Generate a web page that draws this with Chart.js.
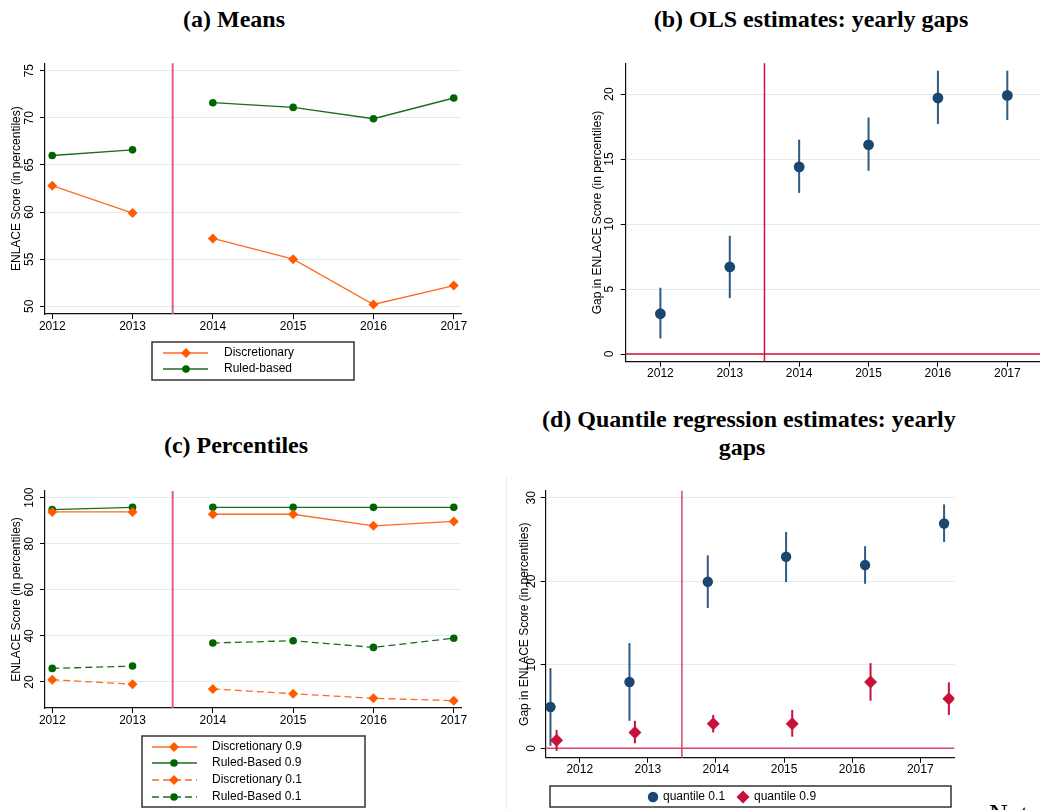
<!DOCTYPE html>
<html lang="en">
<head>
<meta charset="UTF-8">
<title>ENLACE scores: discretionary vs rule-based</title>
<style>
  body { margin: 0; width: 1040px; height: 810px; overflow: hidden; background: #fff; position: relative; }
  canvas { position: absolute; }
  .ttl { position: absolute; font: bold 24px "Liberation Serif", "Times New Roman", serif; line-height: 28px; text-align: center; color: #000; white-space: nowrap; }
  .note { position: absolute; left: 989px; top: 801px; font: 26px "Liberation Serif", serif; line-height: 26px; color: #000; }
  .frame { position: absolute; left: 506px; top: 477px; width: 1px; height: 333px; background: #ececec; }
</style>
</head>
<body>
<div class="ttl" style="left:0;width:468px;top:5px">(a) Means</div>
<div class="ttl" style="left:611px;width:400px;top:5px">(b) OLS estimates: yearly gaps</div>
<div class="ttl" style="left:0;width:472px;top:431px">(c) Percentiles</div>
<div class="ttl" style="left:542px;width:400px;top:405px">(d) Quantile regression estimates: yearly<br>gaps</div>
<div class="frame"></div>
<div class="note">Notes:</div>

<canvas id="chartA" width="480" height="350" style="left:0;top:40px"></canvas>
<canvas id="chartB" width="490" height="350" style="left:560px;top:40px"></canvas>
<canvas id="chartC" width="480" height="340" style="left:0;top:470px"></canvas>
<canvas id="chartD" width="540" height="340" style="left:500px;top:470px"></canvas>

<script src="https://cdn.jsdelivr.net/npm/chart.js"></script>
<script>
  const years = [2012, 2013, 2014, 2015, 2016, 2017];
  const reformYear = 2013.5;

  // (a) means
  const meanDiscretionary = [62.8, 59.9, 57.2, 55.0, 50.2, 52.2];
  const meanRuleBased = [66.0, 66.6, 71.6, 71.1, 69.9, 72.1];
  const meansTicks = [50, 55, 60, 65, 70, 75];

  // (b) OLS gaps with confidence intervals
  const olsGap = [3.1, 6.7, 14.4, 16.1, 19.7, 19.9];
  const olsLow = [1.2, 4.3, 12.4, 14.1, 17.7, 18.0];
  const olsHigh = [5.1, 9.1, 16.5, 18.2, 21.8, 21.8];
  const olsTicks = [0, 5, 10, 15, 20];

  // (c) percentiles
  const disc90 = [93.8, 93.8, 92.8, 92.8, 87.8, 89.7];
  const rule90 = [94.8, 95.8, 95.8, 95.8, 95.8, 95.8];
  const disc10 = [21.0, 19.0, 17.0, 14.9, 12.9, 11.9];
  const rule10 = [25.9, 26.9, 36.9, 37.9, 35.0, 39.0];
  const pctTicks = [20, 40, 60, 80, 100];

  // (d) quantile regression gaps (markers sit where stata put them)
  const q10X = [2011.57, 2012.73, 2013.88, 2015.03, 2016.19, 2017.35];
  const q10Gap = [4.95, 7.94, 19.94, 22.94, 21.94, 26.92];
  const q10Low = [0.3, 3.3, 16.8, 19.9, 19.7, 24.7];
  const q10High = [9.6, 12.6, 23.1, 25.9, 24.2, 29.2];
  const q90X = [2011.66, 2012.81, 2013.96, 2015.12, 2016.27, 2017.42];
  const q90Gap = [0.96, 1.91, 2.95, 2.95, 7.94, 5.94];
  const q90Low = [-0.3, 0.6, 1.9, 1.4, 5.7, 4.0];
  const q90High = [2.2, 3.3, 4.0, 4.6, 10.2, 7.9];
  const qTicks = [0, 10, 20, 30];

  const orange = '#ff5a00';
  const green = '#006400';
  const navy = '#1a476f';
  const crimson = '#c8103a';
  const tickFont = { family: '"Liberation Sans", Arial, sans-serif', size: 12 };

  function pts(xs, ys) {
    return xs.map((x, i) => ({ x: x, y: ys[i] }));
  }

  // no line across the reform year
  function breakAtReform(color) {
    return {
      borderColor: c => {
        const d = c.chart.data.datasets[c.datasetIndex].data;
        return (d[c.p0DataIndex].x < reformYear && d[c.p1DataIndex].x > reformYear) ? 'rgba(0,0,0,0)' : color;
      }
    };
  }

  const refLines = {
    id: 'refLines',
    beforeDatasetsDraw(chart, args, o) {
      const { ctx, chartArea: a, scales: { x, y } } = chart;
      ctx.save();
      ctx.strokeStyle = o.color;
      ctx.lineWidth = o.width;
      (o.x || []).forEach(v => {
        const px = x.getPixelForValue(v);
        ctx.beginPath(); ctx.moveTo(px, a.top); ctx.lineTo(px, a.bottom); ctx.stroke();
      });
      (o.y || []).forEach(v => {
        const py = y.getPixelForValue(v);
        ctx.beginPath(); ctx.moveTo(a.left, py); ctx.lineTo(a.right, py); ctx.stroke();
      });
      ctx.restore();
    }
  };

  const errorBars = {
    id: 'errorBars',
    beforeDatasetsDraw(chart) {
      const { ctx, scales: { x, y } } = chart;
      chart.data.datasets.forEach(ds => {
        if (!ds.errLow) return;
        ctx.save();
        ctx.strokeStyle = ds.errColor;
        ctx.lineWidth = 2;
        ds.data.forEach((p, i) => {
          const px = x.getPixelForValue(p.x);
          ctx.beginPath();
          ctx.moveTo(px, y.getPixelForValue(ds.errLow[i]));
          ctx.lineTo(px, y.getPixelForValue(ds.errHigh[i]));
          ctx.stroke();
        });
        ctx.restore();
      });
    }
  };

  const boxLegend = {
    id: 'boxLegend',
    afterDraw(chart, args, o) {
      const ctx = chart.ctx;
      ctx.save();
      ctx.strokeStyle = '#333';
      ctx.lineWidth = 1.5;
      ctx.strokeRect(o.box[0], o.box[1], o.box[2], o.box[3]);
      ctx.font = '12px "Liberation Sans", Arial, sans-serif';
      ctx.textBaseline = 'middle';
      chart.data.datasets.filter(d => d.label).forEach((d, i) => {
        const y = o.rowY[i] !== undefined ? o.rowY[i] : o.rowY[0];
        const mx = o.markerX[i] !== undefined ? o.markerX[i] : o.markerX[0];
        const tx = o.textX[i] !== undefined ? o.textX[i] : o.textX[0];
        if (o.lineX) {
          ctx.setLineDash(d.borderDash || []);
          ctx.strokeStyle = d.legendLine || d.pointBackgroundColor;
          ctx.lineWidth = 1.5;
          ctx.beginPath(); ctx.moveTo(o.lineX[0], y); ctx.lineTo(o.lineX[1], y); ctx.stroke();
          ctx.setLineDash([]);
        }
        ctx.fillStyle = d.pointBackgroundColor;
        ctx.strokeStyle = d.pointBackgroundColor;
        Chart.helpers.drawPoint(ctx, { pointStyle: d.pointStyle, radius: d.pointRadius, borderWidth: 0, rotation: 0 }, mx, y);
        ctx.fillStyle = '#000';
        ctx.fillText(d.label, tx, y);
      });
      ctx.restore();
    }
  };

  function axes(o) {
    return {
      x: {
        type: 'linear', bounds: 'data', min: o.xMin, max: o.xMax,
        afterBuildTicks: s => { s.ticks = years.map(v => ({ value: v })); },
        afterFit: s => { s.height = o.xH; s.paddingLeft = 0; s.paddingRight = 0; },
        grid: { drawOnChartArea: false, tickLength: 5, tickColor: '#000', tickWidth: 1 },
        border: { color: '#111', width: 1.2 },
        ticks: { padding: 0, autoSkip: false, maxRotation: 0, color: '#000', font: tickFont, callback: v => String(v) }
      },
      y: {
        type: 'linear', bounds: 'data', min: o.yMin, max: o.yMax,
        afterBuildTicks: s => { s.ticks = o.yTicks.map(v => ({ value: v })); },
        afterFit: s => { s.width = o.yW; s.paddingTop = 0; s.paddingBottom = 0; },
        grid: { color: '#e3eced', lineWidth: 1, tickLength: 5, tickColor: '#000', tickWidth: 1 },
        border: { color: '#111', width: 1.2 },
        ticks: { minRotation: 90, maxRotation: 90, crossAlign: 'center', padding: o.yPad, color: '#000', font: tickFont },
        title: { display: true, text: o.yTitle, color: '#000', font: tickFont, padding: { top: o.titlePad, bottom: 0 } }
      }
    };
  }

  function baseOptions(o, pluginOpts) {
    return {
      responsive: false,
      animation: false,
      events: [],
      layout: { autoPadding: false, padding: o.pad },
      scales: axes(o),
      plugins: Object.assign({ legend: { display: false }, tooltip: { enabled: false } }, pluginOpts)
    };
  }

  function lineSeries(label, ys, color, lineColor, style, radius, dash) {
    return {
      label: label, data: pts(years, ys), showLine: true,
      borderColor: lineColor, borderWidth: 1.3, borderDash: dash || [],
      legendLine: lineColor,
      pointStyle: style, pointRadius: radius, pointBorderWidth: 0,
      pointBackgroundColor: color, pointBorderColor: color,
      segment: breakAtReform(lineColor)
    };
  }

  // (a) Means
  new Chart(document.getElementById('chartA'), {
    type: 'scatter',
    data: {
      datasets: [
        lineSeries('Discretionary', meanDiscretionary, orange, '#ff6a20', 'rectRot', 5),
        lineSeries('Ruled-based', meanRuleBased, green, '#1d6b1d', 'circle', 3.8)
      ]
    },
    options: baseOptions({
      xMin: 2011.91, xMax: 2017.09, yMin: 49.19, yMax: 75.78, yTicks: meansTicks,
      xH: 30, yW: 45, yPad: 3.3, titlePad: 9.8,
      yTitle: 'ENLACE Score (in percentiles)',
      pad: { left: 0, top: 23.3, right: 19, bottom: 46 }
    }, {
      refLines: { x: [reformYear], color: '#e2607f', width: 2 },
      boxLegend: { box: [152, 302, 202, 38], rowY: [313, 329], lineX: [163, 208], markerX: [186], textX: [224] }
    }),
    plugins: [refLines, boxLegend]
  });

  // (b) OLS estimates
  new Chart(document.getElementById('chartB'), {
    type: 'scatter',
    data: {
      datasets: [{
        data: pts(years, olsGap), errLow: olsLow, errHigh: olsHigh, errColor: '#2f5a82',
        pointStyle: 'circle', pointRadius: 5.4, pointBorderWidth: 0, pointBackgroundColor: navy
      }]
    },
    options: baseOptions({
      xMin: 2011.5, xMax: 2017.5, yMin: -0.59, yMax: 22.37, yTicks: olsTicks,
      xH: 28.3, yW: 65.7, yPad: 4, titlePad: 30.8,
      yTitle: 'Gap in ENLACE Score (in percentiles)',
      pad: { left: 0, top: 23.3, right: 8, bottom: 0 }
    }, {
      refLines: { x: [reformYear], y: [0], color: '#d0103a', width: 1.5 }
    }),
    plugins: [refLines, errorBars]
  });

  // (c) Percentiles
  new Chart(document.getElementById('chartC'), {
    type: 'scatter',
    data: {
      datasets: [
        lineSeries('Discretionary 0.9', disc90, orange, '#ff6a20', 'rectRot', 5),
        lineSeries('Ruled-Based 0.9', rule90, green, '#1d6b1d', 'circle', 3.8),
        lineSeries('Discretionary 0.1', disc10, orange, '#ff6a20', 'rectRot', 5, [7, 4]),
        lineSeries('Ruled-Based 0.1', rule10, green, '#1d6b1d', 'circle', 3.8, [7, 4])
      ]
    },
    options: baseOptions({
      xMin: 2011.91, xMax: 2017.09, yMin: 8.7, yMax: 102.9, yTicks: pctTicks,
      xH: 30, yW: 45, yPad: 0, titlePad: 9.8,
      yTitle: 'ENLACE Score (in percentiles)',
      pad: { left: 0, top: 21, right: 19, bottom: 72 }
    }, {
      refLines: { x: [reformYear], color: '#e2607f', width: 2 },
      boxLegend: { box: [142, 266, 223, 71], rowY: [277, 293, 310, 327], lineX: [152, 197], markerX: [174], textX: [212] }
    }),
    plugins: [refLines, boxLegend]
  });

  // (d) Quantile regression estimates
  new Chart(document.getElementById('chartD'), {
    type: 'scatter',
    data: {
      datasets: [
        {
          label: 'quantile 0.1', data: pts(q10X, q10Gap), errLow: q10Low, errHigh: q10High, errColor: '#2f5a82',
          pointStyle: 'circle', pointRadius: 5.2, pointBorderWidth: 0, pointBackgroundColor: navy
        },
        {
          label: 'quantile 0.9', data: pts(q90X, q90Gap), errLow: q90Low, errHigh: q90High, errColor: crimson,
          pointStyle: 'rectRot', pointRadius: 6.5, pointBorderWidth: 0, pointBackgroundColor: crimson
        }
      ]
    },
    options: baseOptions({
      xMin: 2011.5, xMax: 2017.5, yMin: -1.12, yMax: 30.84, yTicks: qTicks,
      xH: 30, yW: 45.7, yPad: 2, titlePad: 17.8,
      yTitle: 'Gap in ENLACE Score (in percentiles)',
      pad: { left: 0, top: 20.7, right: 85.7, bottom: 22.3 }
    }, {
      refLines: { x: [reformYear], y: [0], color: '#d9456a', width: 1.5 },
      boxLegend: { box: [50, 316, 401, 21], rowY: [327], markerX: [153, 243], textX: [163, 254] }
    }),
    plugins: [refLines, errorBars, boxLegend]
  });
</script>
</body>
</html>
